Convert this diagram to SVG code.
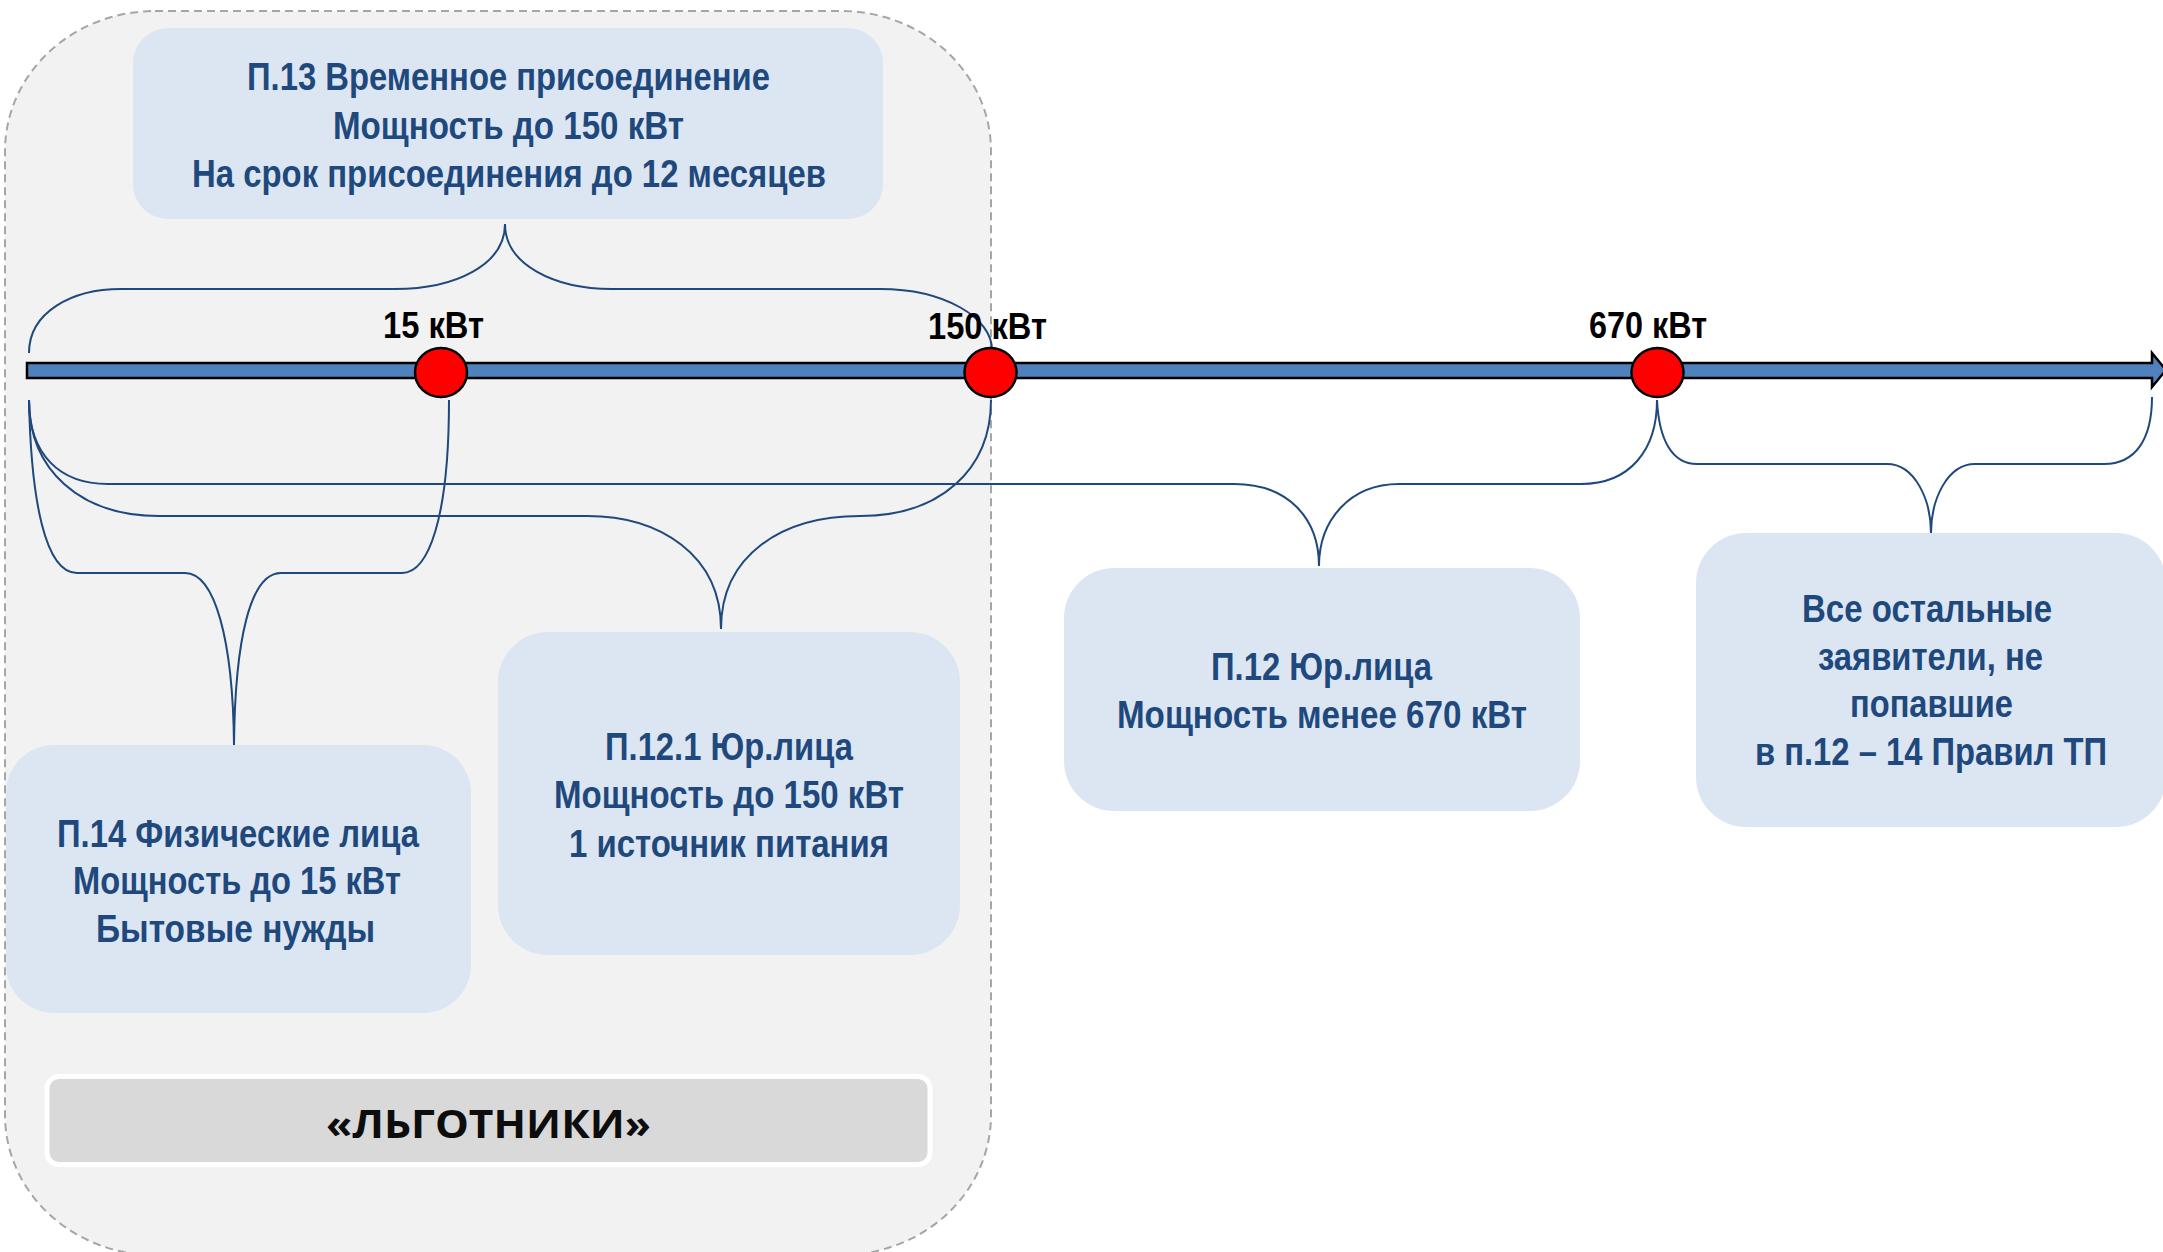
<svg xmlns="http://www.w3.org/2000/svg" width="2163" height="1252" viewBox="0 0 2163 1252">
<defs>
<style>
.box{fill:#dce6f2;}
.t{font-family:"Liberation Sans",Arial,sans-serif;font-weight:bold;font-size:38px;fill:#1f497d;}
.lbl{font-family:"Liberation Sans",Arial,sans-serif;font-weight:bold;font-size:37px;fill:#000;}
.br{fill:none;stroke:#1f497d;stroke-width:2;}
.dot{fill:#ff0000;stroke:#000;stroke-width:2.5;}
</style>
</defs>
<rect width="2163" height="1252" fill="#ffffff"/>
<g id="lgotniki-zone">
<rect x="5" y="11" width="986" height="1244" rx="150" ry="140" fill="#f2f2f2" stroke="#a6a6a6" stroke-width="2" stroke-dasharray="8,5"/>
</g>
<g id="p13">
<rect class="box" x="133" y="28" width="750" height="191" rx="35"/>
<text class="t" x="247" y="90" textLength="523" lengthAdjust="spacingAndGlyphs">П.13 Временное присоединение</text>
<text class="t" x="333" y="139" textLength="351" lengthAdjust="spacingAndGlyphs">Мощность до 150 кВт</text>
<text class="t" x="192" y="187" textLength="634" lengthAdjust="spacingAndGlyphs">На срок присоединения до 12 месяцев</text>
</g>
<g id="p14">
<rect class="box" x="6" y="745" width="465" height="268" rx="48"/>
<text class="t" x="57" y="847" textLength="362" lengthAdjust="spacingAndGlyphs">П.14 Физические лица</text>
<text class="t" x="73" y="894" textLength="328" lengthAdjust="spacingAndGlyphs">Мощность до 15 кВт</text>
<text class="t" x="96" y="942" textLength="279" lengthAdjust="spacingAndGlyphs">Бытовые нужды</text>
</g>
<g id="p12-1">
<rect class="box" x="498" y="632" width="462" height="323" rx="50"/>
<text class="t" x="605" y="760" textLength="248" lengthAdjust="spacingAndGlyphs">П.12.1 Юр.лица</text>
<text class="t" x="554" y="808" textLength="350" lengthAdjust="spacingAndGlyphs">Мощность до 150 кВт</text>
<text class="t" x="569" y="857" textLength="320" lengthAdjust="spacingAndGlyphs">1 источник питания</text>
</g>
<g id="p12">
<rect class="box" x="1064" y="568" width="516" height="243" rx="50"/>
<text class="t" x="1211" y="680" textLength="221" lengthAdjust="spacingAndGlyphs">П.12 Юр.лица</text>
<text class="t" x="1117" y="728" textLength="410" lengthAdjust="spacingAndGlyphs">Мощность менее 670 кВт</text>
</g>
<g id="others">
<rect class="box" x="1696" y="533" width="470" height="294" rx="50"/>
<text class="t" x="1802" y="622" textLength="250" lengthAdjust="spacingAndGlyphs">Все остальные</text>
<text class="t" x="1818" y="670" textLength="225" lengthAdjust="spacingAndGlyphs">заявители, не</text>
<text class="t" x="1850" y="717" textLength="163" lengthAdjust="spacingAndGlyphs">попавшие</text>
<text class="t" x="1755" y="765" textLength="352" lengthAdjust="spacingAndGlyphs">в п.12 – 14 Правил ТП</text>
</g>
<g id="lgotniki-label">
<rect x="47" y="1076.5" width="883" height="88" rx="12" fill="#d9d9d9" stroke="#ffffff" stroke-width="5"/>
<text x="326" y="1138" font-family="'Open Sans','Liberation Sans',sans-serif" font-weight="bold" font-size="40" fill="#0d0d0d" textLength="325" lengthAdjust="spacingAndGlyphs">«ЛЬГОТНИКИ»</text>
</g>
<g id="axis">
<polygon points="27,363 2152,363 2152,353 2166,370 2152,387 2152,378 27,378" fill="#4f81bd" stroke="#000" stroke-width="2.5" stroke-linejoin="miter"/>
</g>
<g id="connectors">
<path class="br" d="M29,353 C29,312 72,289 121,289 L395,289 C455,289 505,265 505,224 C505,265 555,289 612,289 L880,289 C945,289 992,318 992,350"/>
<path class="br" d="M29,400 C31,500 45,573 77,573 L185,573 C215,573 233,640 234,745 C235,640 250,573 281,573 L402,573 C428,573 449,520 449,400"/>
<path class="br" d="M29,400 C29,470 80,516 159,516 L587,516 C660,516 721,555 721,629 C721,555 782,516 860,516 C940,516 991,470 991,400"/>
<path class="br" d="M29,400 C29,455 60,484 108,484 L1234,484 C1290,484 1319,520 1319,566 C1319,520 1350,484 1399,484 L1581,484 C1630,484 1657,450 1657,400"/>
<path class="br" d="M1657,400 C1659,440 1672,464 1697,464 L1887,464 C1915,464 1931,500 1931,533 C1931,500 1947,464 1975,464 L2104,464 C2135,464 2152,440 2152,397"/>
</g>
<g id="marker-15">
<ellipse class="dot" cx="441" cy="372.5" rx="26" ry="24.5"/>
<text class="lbl" x="383" y="338" textLength="101" lengthAdjust="spacingAndGlyphs">15 кВт</text>
</g>
<g id="marker-150">
<ellipse class="dot" cx="990.5" cy="372.5" rx="26" ry="24.5"/>
<text class="lbl" x="928" y="339" textLength="119" lengthAdjust="spacingAndGlyphs">150 кВт</text>
</g>
<g id="marker-670">
<ellipse class="dot" cx="1657.5" cy="372.5" rx="26" ry="24.5"/>
<text class="lbl" x="1589" y="338" textLength="118" lengthAdjust="spacingAndGlyphs">670 кВт</text>
</g>
</svg>
